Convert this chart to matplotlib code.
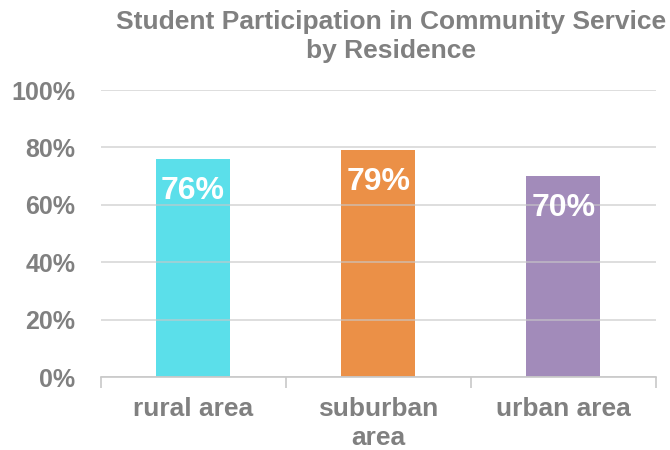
import matplotlib.pyplot as plt
from matplotlib.ticker import FixedLocator

plt.rcParams["font.family"] = ["Liberation Sans", "DejaVu Sans"]

categories = ["rural area", "suburban\narea", "urban area"]
participation = [76, 79, 70]
bar_colors = ["#5BDFEA", "#EB9047", "#A28BBA"]
y_ticks = [0, 20, 40, 60, 80, 100]

text_gray = "#808080"

fig = plt.figure(figsize=(6.7, 4.5), dpi=100)
ax = fig.add_axes([0.150, 0.162, 0.829, 0.638])

x = range(len(categories))
bars = ax.bar(x, participation, width=0.4, color=bar_colors, zorder=1)

# value labels sit inside the top of each bar
for bar, val in zip(bars, participation):
    ax.annotate(f"{val}%", (bar.get_x() + bar.get_width() / 2, val),
                xytext=(0, -12), textcoords="offset points",
                ha="center", va="top", color="white",
                fontsize=23, fontweight="bold", zorder=3)

ax.set_xlim(-0.5, len(categories) - 0.5)
ax.set_ylim(0, 100)
ax.set_yticks(y_ticks)
ax.set_yticklabels([f"{t}%" for t in y_ticks])
ax.yaxis.grid(True, color="#c8c8c8", linewidth=1.2, alpha=0.7, zorder=2)
ax.set_axisbelow(False)

ax.set_xticks(list(x))
ax.set_xticklabels(categories)
ax.xaxis.set_minor_locator(FixedLocator([-0.5, 0.5, 1.5, 2.5]))
ax.tick_params(axis="x", which="major", length=0, pad=14,
               labelsize=19, labelcolor=text_gray)
ax.tick_params(axis="x", which="minor", length=8, width=1.2,
               color="#c8c8c8", direction="out")
ax.tick_params(axis="y", length=0, pad=18, labelsize=18,
               labelcolor=text_gray)
for lbl in ax.get_xticklabels() + ax.get_yticklabels():
    lbl.set_fontweight("bold")
    lbl.set_linespacing(1.27)

for side in ["top", "right", "left"]:
    ax.spines[side].set_visible(False)
ax.spines["bottom"].set_color("#c8c8c8")
ax.spines["bottom"].set_linewidth(1.2)

fig.text(0.584, 0.978, "Student Participation in Community Service\nby Residence",
         ha="center", va="top", fontsize=19, fontweight="bold",
         color=text_gray, linespacing=1.27)

fig.savefig("out.png", dpi=100)
